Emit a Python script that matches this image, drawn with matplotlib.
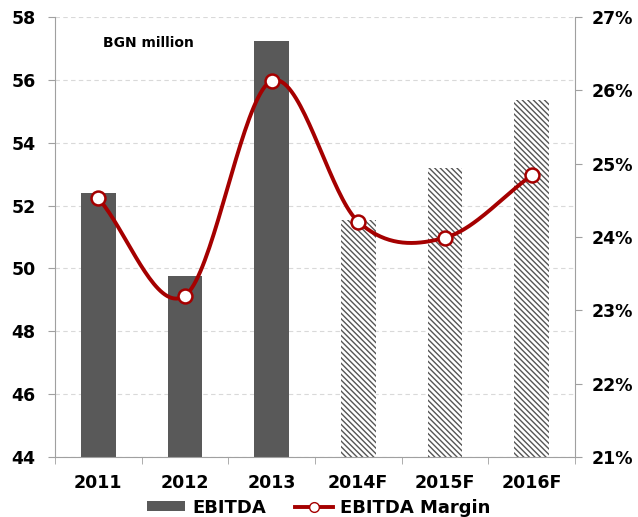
import numpy as np
import matplotlib.pyplot as plt
from matplotlib.ticker import FuncFormatter, FixedLocator
from matplotlib.patches import Patch
from matplotlib.lines import Line2D
import matplotlib as mpl

# ===== data =====
years = ['2011', '2012', '2013', '2014F', '2015F', '2016F']
ebitda = [52.4, 49.75, 57.25, 51.55, 53.2, 55.35]
margin = [24.53, 23.2, 26.13, 24.21, 23.99, 24.84]
forecast = [False, False, False, True, True, True]

bar_color = '#595959'
line_color = '#A50000'
mpl.rcParams['hatch.linewidth'] = 1.0
mpl.rcParams['font.family'] = ['DejaVu Sans']


def catmull_rom(x, y, n=40):
    # smooth curve through points (like Excel smoothed line)
    x = np.asarray(x, float)
    y = np.asarray(y, float)
    px = np.concatenate([[2 * x[0] - x[1]], x, [2 * x[-1] - x[-2]]])
    py = np.concatenate([[2 * y[0] - y[1]], y, [2 * y[-1] - y[-2]]])
    xs, ys = [], []
    for i in range(1, len(px) - 2):
        t = np.linspace(0, 1, n)
        for p, out in ((px, xs), (py, ys)):
            p0, p1, p2, p3 = p[i - 1], p[i], p[i + 1], p[i + 2]
            c1 = p1 + (p2 - p0) / 6
            c2 = p2 - (p3 - p1) / 6
            out.extend((1 - t) ** 3 * p1 + 3 * (1 - t) ** 2 * t * c1
                       + 3 * (1 - t) * t ** 2 * c2 + t ** 3 * p2)
    return np.array(xs), np.array(ys)


fig = plt.figure(figsize=(6.38, 5.17), dpi=100)
ax = fig.add_axes([0.086, 0.116, 0.815, 0.851])
x = np.arange(len(years))

for xi, v, f in zip(x, ebitda, forecast):
    if f:
        ax.bar(xi, v - 44, bottom=44, width=0.4, color='white',
               edgecolor='#555555', hatch='\\' * 6, linewidth=0, zorder=2)
    else:
        ax.bar(xi, v - 44, bottom=44, width=0.4, color=bar_color, linewidth=0, zorder=2)

ax.set_ylim(44, 58)
ax.set_xlim(-0.5, 5.5)
ax.set_yticks(np.arange(44, 59, 2))
ax.yaxis.grid(True, linestyle=(0, (4, 3)), color='#d9d9d9', linewidth=0.8)
ax.set_axisbelow(True)
ax.set_xticks(x)
ax.set_xticklabels(years, fontsize=12.5, fontweight='bold')
ax.xaxis.set_minor_locator(FixedLocator(np.arange(-0.5, 6, 1)))
ax.tick_params(axis='x', which='major', length=0, pad=12)
ax.tick_params(axis='x', which='minor', length=5, color='#a0a0a0', direction='out')
ax.tick_params(axis='y', length=5, color='#a0a0a0', labelsize=12.5, pad=9)
for lab in ax.get_yticklabels():
    lab.set_fontweight('bold')
for s in ['top', 'right']:
    ax.spines[s].set_visible(False)
for s in ['left', 'bottom']:
    ax.spines[s].set_color('#a0a0a0')

ax.text(0.092, 0.94, 'BGN million', transform=ax.transAxes, fontsize=10,
        fontweight='bold', va='center')

ax2 = ax.twinx()
ax2.set_ylim(21, 27)
ax2.set_yticks(np.arange(21, 28, 1))
ax2.yaxis.set_major_formatter(FuncFormatter(lambda v, p: '%d%%' % v))
ax2.tick_params(axis='y', length=5, color='#a0a0a0', labelsize=12.5, pad=7)
for lab in ax2.get_yticklabels():
    lab.set_fontweight('bold')
for s in ['top', 'left', 'bottom']:
    ax2.spines[s].set_visible(False)
ax2.spines['right'].set_color('#a0a0a0')

sx, sy = catmull_rom(x, margin)
ax2.plot(sx, sy, color=line_color, linewidth=2.8, zorder=3)
ax2.plot(x, margin, linestyle='none', marker='o', markersize=10,
         markerfacecolor='white', markeredgecolor=line_color,
         markeredgewidth=1.8, zorder=4)

handles = [Patch(facecolor=bar_color, label='EBITDA'),
           Line2D([0], [0], color=line_color, linewidth=2.8, marker='o',
                  markersize=7, markerfacecolor='white',
                  markeredgecolor=line_color, label='EBITDA Margin')]
fig.legend(handles=handles, loc='center', bbox_to_anchor=(0.5, 0.018),
           ncol=2, frameon=False, prop={'weight': 'bold', 'size': 13},
           handlelength=2.1, handleheight=0.5, columnspacing=1.6,
           handletextpad=0.4, borderpad=0)

fig.savefig('out.png', dpi=100)
